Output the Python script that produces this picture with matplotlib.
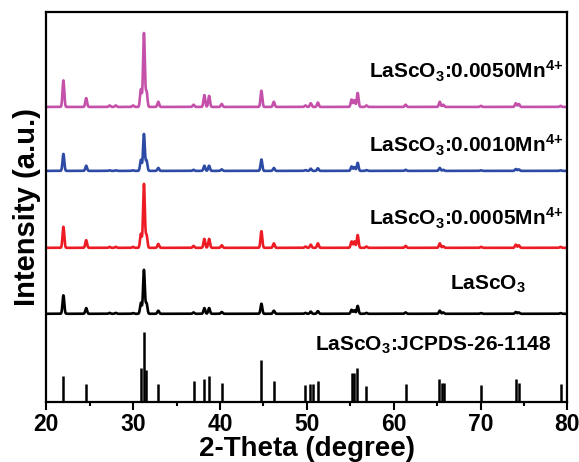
import numpy as np
import matplotlib
matplotlib.use("Agg")
import matplotlib.pyplot as plt
from matplotlib.ticker import MultipleLocator

plt.rcParams['font.family'] = ['Liberation Sans', 'DejaVu Sans']
plt.rcParams['font.weight'] = 'bold'
plt.rcParams['mathtext.fontset'] = 'custom'
plt.rcParams['mathtext.rm'] = 'Liberation Sans:bold'
plt.rcParams['mathtext.it'] = 'Liberation Sans:bold'
plt.rcParams['mathtext.bf'] = 'Liberation Sans:bold'
plt.rcParams['mathtext.default'] = 'rm'

# JCPDS 26-1148 reference sticks (2-theta, relative intensity)
ref_pos = [21.98, 24.6, 30.9, 31.25, 31.5, 32.9, 36.96, 38.2, 38.75, 40.2,
           44.77, 46.2, 49.84, 50.4, 50.67, 51.27, 55.15, 55.47, 55.83, 56.86,
           61.37, 65.26, 65.53, 65.73, 70.05, 74.05, 74.37, 79.2]
ref_int = [37, 26, 48, 100, 45, 25, 29, 33, 37, 27,
           60, 29, 24, 25, 25, 30, 41, 41, 48, 23,
           26, 32, 27, 27, 24, 32, 27, 25]

# measured patterns: peak positions and relative peak intensities
pk_pos = [21.98, 24.6, 27.3, 28.0, 30.0, 30.9, 31.25, 31.55, 32.9, 36.96,
          38.2, 38.75, 40.2, 44.77, 46.2, 49.84, 50.45, 51.27, 55.15, 55.47,
          55.85, 56.86, 61.37, 65.3, 65.7, 70.05, 74.05, 74.4, 79.2]
int_host = [42, 13, 2, 2, 1.5, 25, 100, 24, 7, 3,
            13, 13, 4, 23, 7, 2, 5, 6, 9, 8,
            18, 2, 3, 7, 3, 1.5, 4, 3, 1.5]
int_0005 = [33, 12, 1.5, 1.5, 1.5, 22, 100, 20, 6, 3,
            14, 14, 4, 26, 7, 2, 5, 7, 10, 10,
            20, 2, 3, 7, 2.5, 1.5, 5, 4, 1.5]
int_0010 = [46, 14, 1.5, 1.5, 1.5, 30, 100, 28, 8, 3,
            14, 14, 4, 31, 8, 2, 6, 7, 12, 10,
            22, 2, 3, 8, 3, 1.5, 5, 4, 1.5]
int_0050 = [36, 12, 2, 2, 2, 24, 100, 21, 7, 3,
            16, 15, 4, 22, 7, 2, 5, 6, 10, 9,
            19, 2, 3, 7, 3, 1.5, 5, 4, 1.5]

labels = [r'LaScO$_3$', r'LaScO$_3$:0.0005Mn$^{\text{4+}}$',
          r'LaScO$_3$:0.0010Mn$^{\text{4+}}$', r'LaScO$_3$:0.0050Mn$^{\text{4+}}$']
ref_label = r'LaScO$_3$:JCPDS-26-1148'


def pattern(x, pos, inten, w=0.1):
    y = np.zeros_like(x)
    for p, h in zip(pos, inten):
        y += h * np.exp(-0.5 * ((x - p) / w) ** 2)
    return y / y.max()


fig = plt.figure(figsize=(5.79, 4.62), dpi=100)
ax = fig.add_axes([0.0798, 0.1305, 0.9003, 0.8435])

x = np.linspace(20, 80, 12001)
series = [int_host, int_0005, int_0010, int_0050]
colors = ['black', '#ED1C24', '#2D4BA5', '#C450AA']
offsets = [88, 154, 231, 295]
scales = [44, 64, 37, 74]
label_y = [112, 176, 249, 323]
label_x = [75.2, 79.5, 79.5, 79.5]

ax.vlines(ref_pos, 0, np.array(ref_int) * 0.70, color='black', lw=1.8)
ax.text(78.2, 51, ref_label, ha='right', va='baseline', fontsize=15,
        fontweight='bold')

for inten, c, off, sc, ly, lx, lab in zip(series, colors, offsets, scales,
                                          label_y, label_x, labels):
    ax.plot(x, off + sc * pattern(x, pk_pos, inten), color=c, lw=1.9)
    ax.text(lx, ly, lab, ha='right', va='baseline', fontsize=15,
            fontweight='bold')

ax.set_xlim(20, 80)
ax.set_ylim(0, 390)
ax.set_yticks([])
ax.xaxis.set_major_locator(MultipleLocator(10))
ax.xaxis.set_minor_locator(MultipleLocator(5))
ax.tick_params(axis='x', which='major', direction='out', length=6, width=1.5,
               labelsize=16.5, pad=2)
ax.tick_params(axis='x', which='minor', direction='out', length=3, width=1.5)
for lab in ax.get_xticklabels():
    lab.set_fontweight('bold')
for s in ax.spines.values():
    s.set_linewidth(1.6)

ax.set_xlabel('2-Theta (degree)', fontsize=20, fontweight='bold', labelpad=0)
ax.set_ylabel('Intensity (a.u.)', fontsize=21, fontweight='bold', labelpad=4)

fig.savefig('out.png', dpi=100)
